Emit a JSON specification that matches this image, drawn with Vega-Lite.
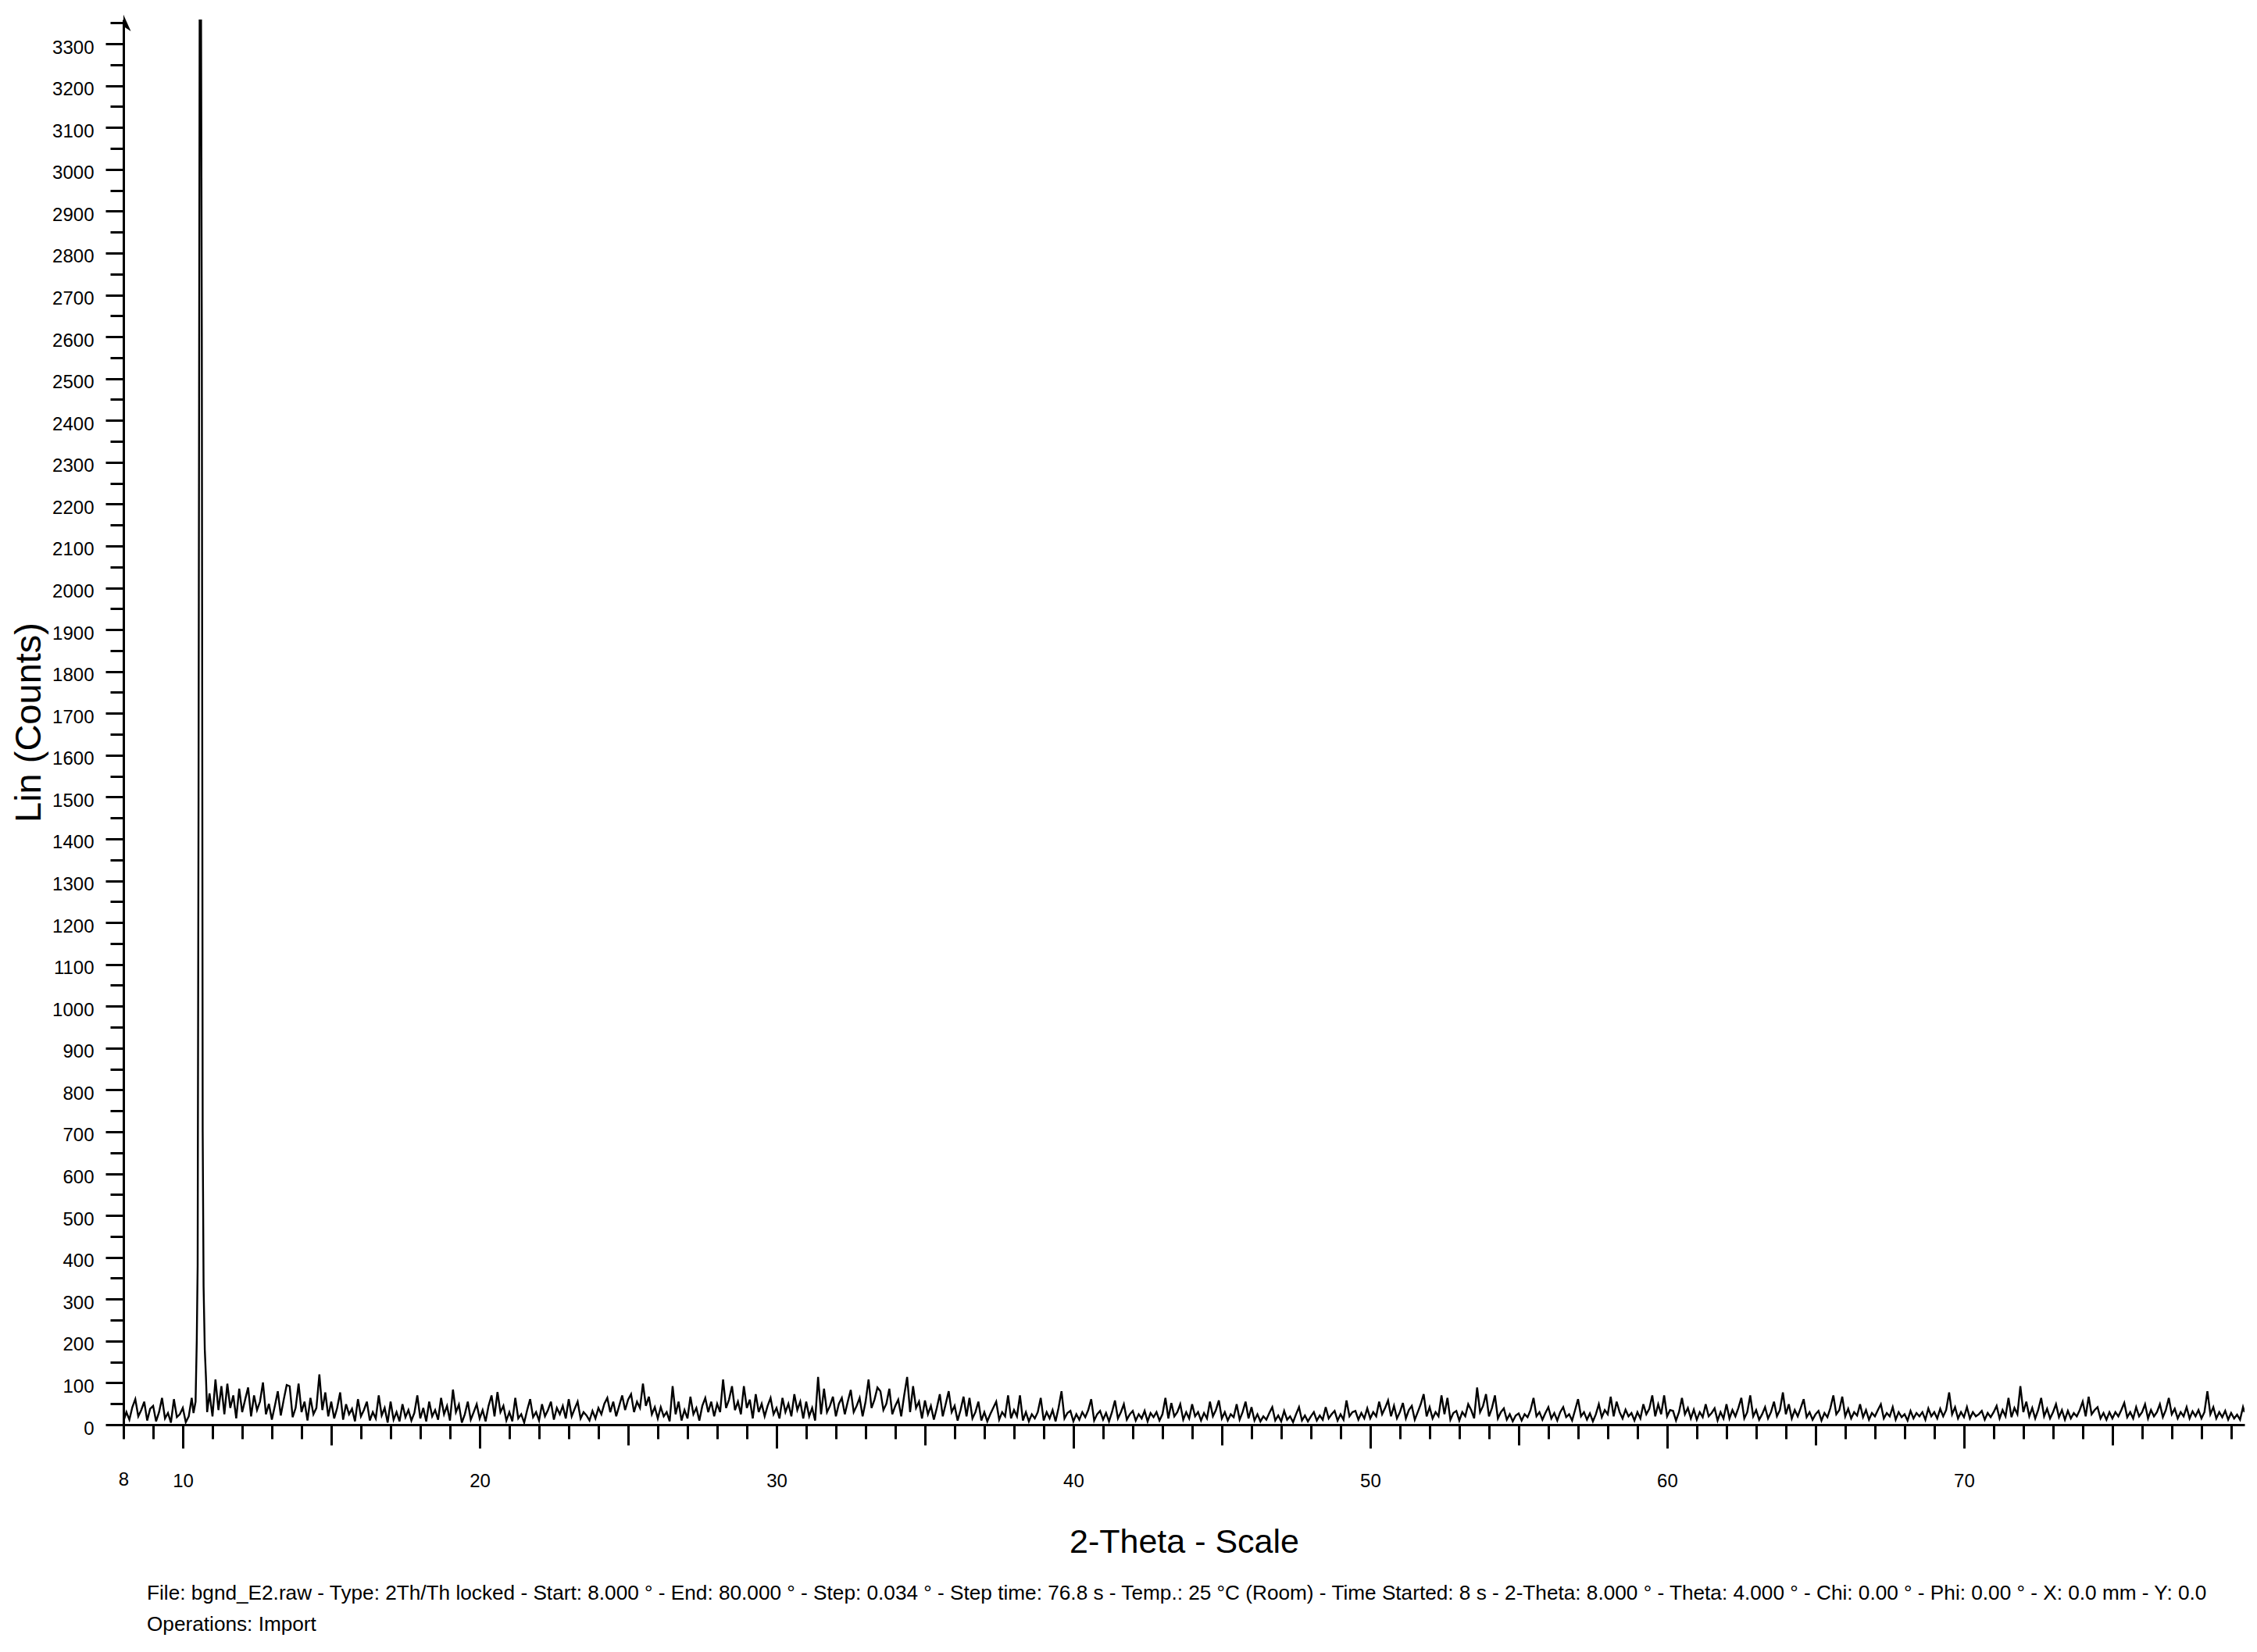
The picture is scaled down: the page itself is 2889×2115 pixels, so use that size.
{
  "$schema": "https://vega.github.io/schema/vega-lite/v6.json",
  "width": 2715,
  "height": 1799,
  "autosize": {"type": "none"},
  "padding": {"left": 158, "top": 25, "right": 16, "bottom": 291},
  "background": "white",
  "config": {"view": {"stroke": null}},
  "title": {
    "text": ["File: bgnd_E2.raw - Type: 2Th/Th locked - Start: 8.000 ° - End: 80.000 ° - Step: 0.034 ° - Step time: 76.8 s - Temp.: 25 °C (Room) - Time Started: 8 s - 2-Theta: 8.000 ° - Theta: 4.000 ° - Chi: 0.00 ° - Phi: 0.00 ° - X: 0.0 mm - Y: 0.0", "Operations: Import"],
    "orient": "bottom",
    "anchor": "start",
    "frame": "group",
    "dx": 30,
    "offset": 31,
    "font": "Liberation Sans, Arial, sans-serif",
    "fontSize": 26.2,
    "fontWeight": "normal",
    "color": "black",
    "lineHeight": 40
  },
  "layer": [
    {
  "data": {"values": [
{"t":8.0,"c":8},{"t":8.1,"c":30},{"t":8.2,"c":12},{"t":8.3,"c":42},{"t":8.4,"c":61},{"t":8.5,"c":20},{"t":8.6,"c":35},{"t":8.7,"c":55},{"t":8.8,"c":10},{"t":8.9,"c":38},
{"t":9.0,"c":45},{"t":9.1,"c":8},{"t":9.2,"c":30},{"t":9.3,"c":64},{"t":9.4,"c":15},{"t":9.5,"c":28},{"t":9.6,"c":5},{"t":9.7,"c":61},{"t":9.8,"c":18},{"t":9.9,"c":25},
{"t":10.0,"c":40},{"t":10.1,"c":6},{"t":10.2,"c":20},{"t":10.3,"c":64},{"t":10.36,"c":28},{"t":10.43,"c":55},{"t":10.47,"c":200},{"t":10.5,"c":380},{"t":10.53,"c":1500},{"t":10.57,"c":3500},{"t":10.6,"c":3800},{"t":10.64,"c":2600},{"t":10.67,"c":700},{"t":10.7,"c":330},{"t":10.74,"c":180},{"t":10.78,"c":113},{"t":10.82,"c":30},{"t":10.9,"c":75},
{"t":11.0,"c":20},{"t":11.1,"c":108},{"t":11.2,"c":35},{"t":11.3,"c":92},{"t":11.4,"c":25},{"t":11.5,"c":98},{"t":11.6,"c":40},{"t":11.7,"c":70},{"t":11.8,"c":15},{"t":11.9,"c":86},
{"t":12.0,"c":30},{"t":12.1,"c":60},{"t":12.2,"c":89},{"t":12.3,"c":20},{"t":12.4,"c":70},{"t":12.5,"c":35},{"t":12.6,"c":55},{"t":12.7,"c":101},{"t":12.8,"c":25},{"t":12.9,"c":50},
{"t":13.0,"c":12},{"t":13.1,"c":45},{"t":13.2,"c":80},{"t":13.3,"c":22},{"t":13.4,"c":60},{"t":13.5,"c":95},{"t":13.6,"c":92},{"t":13.7,"c":18},{"t":13.8,"c":40},{"t":13.9,"c":98},
{"t":14.0,"c":30},{"t":14.1,"c":55},{"t":14.2,"c":10},{"t":14.3,"c":64},{"t":14.4,"c":25},{"t":14.5,"c":40},{"t":14.6,"c":120},{"t":14.7,"c":35},{"t":14.8,"c":77},{"t":14.9,"c":20},
{"t":15.0,"c":55},{"t":15.1,"c":15},{"t":15.2,"c":40},{"t":15.3,"c":77},{"t":15.4,"c":12},{"t":15.5,"c":49},{"t":15.6,"c":25},{"t":15.7,"c":38},{"t":15.8,"c":8},{"t":15.9,"c":61},
{"t":16.0,"c":20},{"t":16.1,"c":35},{"t":16.2,"c":55},{"t":16.3,"c":10},{"t":16.4,"c":30},{"t":16.5,"c":15},{"t":16.6,"c":70},{"t":16.7,"c":22},{"t":16.8,"c":40},{"t":16.9,"c":5},
{"t":17.0,"c":55},{"t":17.1,"c":12},{"t":17.2,"c":30},{"t":17.3,"c":8},{"t":17.4,"c":49},{"t":17.5,"c":18},{"t":17.6,"c":35},{"t":17.7,"c":10},{"t":17.8,"c":28},{"t":17.9,"c":70},
{"t":18.0,"c":15},{"t":18.1,"c":40},{"t":18.2,"c":8},{"t":18.3,"c":55},{"t":18.4,"c":20},{"t":18.5,"c":35},{"t":18.6,"c":12},{"t":18.7,"c":64},{"t":18.8,"c":25},{"t":18.9,"c":45},
{"t":19.0,"c":10},{"t":19.1,"c":84},{"t":19.2,"c":30},{"t":19.3,"c":48},{"t":19.4,"c":5},{"t":19.5,"c":25},{"t":19.6,"c":55},{"t":19.7,"c":12},{"t":19.8,"c":30},{"t":19.9,"c":49},
{"t":20.0,"c":15},{"t":20.1,"c":35},{"t":20.2,"c":8},{"t":20.3,"c":45},{"t":20.4,"c":70},{"t":20.5,"c":20},{"t":20.6,"c":78},{"t":20.7,"c":30},{"t":20.8,"c":45},{"t":20.9,"c":10},
{"t":21.0,"c":30},{"t":21.1,"c":8},{"t":21.2,"c":64},{"t":21.3,"c":15},{"t":21.4,"c":25},{"t":21.5,"c":5},{"t":21.6,"c":35},{"t":21.7,"c":61},{"t":21.8,"c":18},{"t":21.9,"c":30},
{"t":22.0,"c":10},{"t":22.1,"c":49},{"t":22.2,"c":20},{"t":22.3,"c":35},{"t":22.4,"c":55},{"t":22.5,"c":12},{"t":22.6,"c":40},{"t":22.7,"c":25},{"t":22.8,"c":45},{"t":22.9,"c":15},
{"t":23.0,"c":61},{"t":23.1,"c":20},{"t":23.2,"c":38},{"t":23.3,"c":55},{"t":23.4,"c":15},{"t":23.5,"c":30},{"t":23.6,"c":22},{"t":23.7,"c":10},{"t":23.8,"c":33},{"t":23.9,"c":15},
{"t":24.0,"c":40},{"t":24.1,"c":25},{"t":24.2,"c":50},{"t":24.3,"c":64},{"t":24.4,"c":30},{"t":24.5,"c":55},{"t":24.6,"c":20},{"t":24.7,"c":45},{"t":24.8,"c":70},{"t":24.9,"c":35},
{"t":25.0,"c":60},{"t":25.1,"c":73},{"t":25.2,"c":30},{"t":25.3,"c":55},{"t":25.4,"c":40},{"t":25.5,"c":98},{"t":25.6,"c":45},{"t":25.7,"c":67},{"t":25.8,"c":25},{"t":25.9,"c":42},
{"t":26.0,"c":15},{"t":26.1,"c":42},{"t":26.2,"c":20},{"t":26.3,"c":30},{"t":26.4,"c":8},{"t":26.5,"c":92},{"t":26.6,"c":25},{"t":26.7,"c":55},{"t":26.8,"c":10},{"t":26.9,"c":35},
{"t":27.0,"c":15},{"t":27.1,"c":67},{"t":27.2,"c":25},{"t":27.3,"c":40},{"t":27.4,"c":10},{"t":27.5,"c":45},{"t":27.6,"c":64},{"t":27.7,"c":30},{"t":27.8,"c":55},{"t":27.9,"c":20},
{"t":28.0,"c":50},{"t":28.1,"c":30},{"t":28.2,"c":108},{"t":28.3,"c":40},{"t":28.4,"c":60},{"t":28.5,"c":92},{"t":28.6,"c":35},{"t":28.7,"c":55},{"t":28.8,"c":25},{"t":28.9,"c":92},
{"t":29.0,"c":40},{"t":29.1,"c":60},{"t":29.2,"c":15},{"t":29.3,"c":73},{"t":29.4,"c":30},{"t":29.5,"c":50},{"t":29.6,"c":20},{"t":29.7,"c":45},{"t":29.8,"c":64},{"t":29.9,"c":25},
{"t":30.0,"c":40},{"t":30.1,"c":15},{"t":30.2,"c":64},{"t":30.3,"c":30},{"t":30.4,"c":50},{"t":30.5,"c":20},{"t":30.6,"c":73},{"t":30.7,"c":35},{"t":30.8,"c":55},{"t":30.9,"c":15},
{"t":31.0,"c":55},{"t":31.1,"c":20},{"t":31.2,"c":40},{"t":31.3,"c":10},{"t":31.4,"c":114},{"t":31.5,"c":25},{"t":31.6,"c":86},{"t":31.7,"c":30},{"t":31.8,"c":45},{"t":31.9,"c":67},
{"t":32.0,"c":20},{"t":32.1,"c":50},{"t":32.2,"c":64},{"t":32.3,"c":25},{"t":32.4,"c":55},{"t":32.5,"c":83},{"t":32.6,"c":30},{"t":32.7,"c":45},{"t":32.8,"c":64},{"t":32.9,"c":20},
{"t":33.0,"c":55},{"t":33.1,"c":108},{"t":33.2,"c":40},{"t":33.3,"c":60},{"t":33.4,"c":89},{"t":33.5,"c":80},{"t":33.6,"c":35},{"t":33.7,"c":50},{"t":33.8,"c":86},{"t":33.9,"c":25},
{"t":34.0,"c":45},{"t":34.1,"c":60},{"t":34.2,"c":20},{"t":34.3,"c":70},{"t":34.4,"c":114},{"t":34.5,"c":30},{"t":34.6,"c":92},{"t":34.7,"c":40},{"t":34.8,"c":55},{"t":34.9,"c":15},
{"t":35.0,"c":58},{"t":35.1,"c":25},{"t":35.2,"c":45},{"t":35.3,"c":12},{"t":35.4,"c":40},{"t":35.5,"c":73},{"t":35.6,"c":20},{"t":35.7,"c":50},{"t":35.8,"c":80},{"t":35.9,"c":30},
{"t":36.0,"c":45},{"t":36.1,"c":10},{"t":36.2,"c":35},{"t":36.3,"c":67},{"t":36.4,"c":20},{"t":36.5,"c":64},{"t":36.6,"c":15},{"t":36.7,"c":30},{"t":36.8,"c":55},{"t":36.9,"c":10},
{"t":37.0,"c":30},{"t":37.1,"c":8},{"t":37.2,"c":25},{"t":37.3,"c":40},{"t":37.4,"c":55},{"t":37.5,"c":12},{"t":37.6,"c":30},{"t":37.7,"c":20},{"t":37.8,"c":70},{"t":37.9,"c":15},
{"t":38.0,"c":35},{"t":38.1,"c":20},{"t":38.2,"c":70},{"t":38.3,"c":10},{"t":38.4,"c":30},{"t":38.5,"c":8},{"t":38.6,"c":25},{"t":38.7,"c":15},{"t":38.8,"c":30},{"t":38.9,"c":64},
{"t":39.0,"c":10},{"t":39.1,"c":30},{"t":39.2,"c":15},{"t":39.3,"c":35},{"t":39.4,"c":8},{"t":39.5,"c":40},{"t":39.6,"c":80},{"t":39.7,"c":15},{"t":39.8,"c":28},{"t":39.9,"c":33},
{"t":40.0,"c":8},{"t":40.1,"c":25},{"t":40.2,"c":12},{"t":40.3,"c":30},{"t":40.4,"c":18},{"t":40.5,"c":35},{"t":40.6,"c":61},{"t":40.7,"c":10},{"t":40.8,"c":25},{"t":40.9,"c":33},
{"t":41.0,"c":12},{"t":41.1,"c":28},{"t":41.2,"c":8},{"t":41.3,"c":30},{"t":41.4,"c":58},{"t":41.5,"c":15},{"t":41.6,"c":30},{"t":41.7,"c":49},{"t":41.8,"c":12},{"t":41.9,"c":25},
{"t":42.0,"c":33},{"t":42.1,"c":10},{"t":42.2,"c":25},{"t":42.3,"c":15},{"t":42.4,"c":33},{"t":42.5,"c":8},{"t":42.6,"c":28},{"t":42.7,"c":18},{"t":42.8,"c":30},{"t":42.9,"c":10},
{"t":43.0,"c":25},{"t":43.1,"c":64},{"t":43.2,"c":15},{"t":43.3,"c":52},{"t":43.4,"c":20},{"t":43.5,"c":30},{"t":43.6,"c":49},{"t":43.7,"c":12},{"t":43.8,"c":30},{"t":43.9,"c":15},
{"t":44.0,"c":49},{"t":44.1,"c":20},{"t":44.2,"c":30},{"t":44.3,"c":10},{"t":44.4,"c":28},{"t":44.5,"c":15},{"t":44.6,"c":55},{"t":44.7,"c":20},{"t":44.8,"c":35},{"t":44.9,"c":58},
{"t":45.0,"c":15},{"t":45.1,"c":30},{"t":45.2,"c":10},{"t":45.3,"c":25},{"t":45.4,"c":18},{"t":45.5,"c":49},{"t":45.6,"c":12},{"t":45.7,"c":30},{"t":45.8,"c":55},{"t":45.9,"c":15},
{"t":46.0,"c":42},{"t":46.1,"c":10},{"t":46.2,"c":25},{"t":46.3,"c":8},{"t":46.4,"c":20},{"t":46.5,"c":12},{"t":46.6,"c":28},{"t":46.7,"c":42},{"t":46.8,"c":10},{"t":46.9,"c":22},
{"t":47.0,"c":8},{"t":47.1,"c":33},{"t":47.2,"c":12},{"t":47.3,"c":20},{"t":47.4,"c":6},{"t":47.5,"c":25},{"t":47.6,"c":42},{"t":47.7,"c":10},{"t":47.8,"c":22},{"t":47.9,"c":8},
{"t":48.0,"c":20},{"t":48.1,"c":30},{"t":48.2,"c":10},{"t":48.3,"c":22},{"t":48.4,"c":12},{"t":48.5,"c":42},{"t":48.6,"c":15},{"t":48.7,"c":25},{"t":48.8,"c":33},{"t":48.9,"c":10},
{"t":49.0,"c":25},{"t":49.1,"c":12},{"t":49.2,"c":58},{"t":49.3,"c":20},{"t":49.4,"c":30},{"t":49.5,"c":33},{"t":49.6,"c":12},{"t":49.7,"c":28},{"t":49.8,"c":15},{"t":49.9,"c":39},
{"t":50.0,"c":15},{"t":50.1,"c":30},{"t":50.2,"c":20},{"t":50.3,"c":55},{"t":50.4,"c":25},{"t":50.5,"c":40},{"t":50.6,"c":58},{"t":50.7,"c":20},{"t":50.8,"c":45},{"t":50.9,"c":15},
{"t":51.0,"c":30},{"t":51.1,"c":52},{"t":51.2,"c":15},{"t":51.3,"c":35},{"t":51.4,"c":45},{"t":51.5,"c":12},{"t":51.6,"c":30},{"t":51.7,"c":49},{"t":51.8,"c":73},{"t":51.9,"c":20},
{"t":52.0,"c":42},{"t":52.1,"c":15},{"t":52.2,"c":30},{"t":52.3,"c":20},{"t":52.4,"c":70},{"t":52.5,"c":25},{"t":52.6,"c":64},{"t":52.7,"c":12},{"t":52.8,"c":28},{"t":52.9,"c":33},
{"t":53.0,"c":10},{"t":53.1,"c":30},{"t":53.2,"c":20},{"t":53.3,"c":49},{"t":53.4,"c":35},{"t":53.5,"c":15},{"t":53.6,"c":89},{"t":53.7,"c":30},{"t":53.8,"c":45},{"t":53.9,"c":73},
{"t":54.0,"c":20},{"t":54.1,"c":40},{"t":54.2,"c":70},{"t":54.3,"c":15},{"t":54.4,"c":30},{"t":54.5,"c":39},{"t":54.6,"c":12},{"t":54.7,"c":25},{"t":54.8,"c":8},{"t":54.9,"c":22},
{"t":55.0,"c":27},{"t":55.1,"c":10},{"t":55.2,"c":25},{"t":55.3,"c":18},{"t":55.4,"c":35},{"t":55.5,"c":64},{"t":55.6,"c":20},{"t":55.7,"c":30},{"t":55.8,"c":12},{"t":55.9,"c":28},
{"t":56.0,"c":42},{"t":56.1,"c":15},{"t":56.2,"c":28},{"t":56.3,"c":10},{"t":56.4,"c":30},{"t":56.5,"c":42},{"t":56.6,"c":18},{"t":56.7,"c":25},{"t":56.8,"c":10},{"t":56.9,"c":35},
{"t":57.0,"c":61},{"t":57.1,"c":20},{"t":57.2,"c":30},{"t":57.3,"c":12},{"t":57.4,"c":27},{"t":57.5,"c":8},{"t":57.6,"c":25},{"t":57.7,"c":49},{"t":57.8,"c":18},{"t":57.9,"c":35},
{"t":58.0,"c":25},{"t":58.1,"c":67},{"t":58.2,"c":20},{"t":58.3,"c":55},{"t":58.4,"c":30},{"t":58.5,"c":15},{"t":58.6,"c":36},{"t":58.7,"c":20},{"t":58.8,"c":28},{"t":58.9,"c":10},
{"t":59.0,"c":30},{"t":59.1,"c":15},{"t":59.2,"c":49},{"t":59.3,"c":25},{"t":59.4,"c":38},{"t":59.5,"c":70},{"t":59.6,"c":20},{"t":59.7,"c":49},{"t":59.8,"c":25},{"t":59.9,"c":70},
{"t":60.0,"c":20},{"t":60.1,"c":35},{"t":60.2,"c":33},{"t":60.3,"c":10},{"t":60.4,"c":30},{"t":60.5,"c":64},{"t":60.6,"c":25},{"t":60.7,"c":40},{"t":60.8,"c":15},{"t":60.9,"c":36},
{"t":61.0,"c":12},{"t":61.1,"c":30},{"t":61.2,"c":18},{"t":61.3,"c":49},{"t":61.4,"c":20},{"t":61.5,"c":28},{"t":61.6,"c":39},{"t":61.7,"c":10},{"t":61.8,"c":30},{"t":61.9,"c":15},
{"t":62.0,"c":49},{"t":62.1,"c":15},{"t":62.2,"c":35},{"t":62.3,"c":20},{"t":62.4,"c":40},{"t":62.5,"c":64},{"t":62.6,"c":15},{"t":62.7,"c":30},{"t":62.8,"c":70},{"t":62.9,"c":20},
{"t":63.0,"c":35},{"t":63.1,"c":12},{"t":63.2,"c":25},{"t":63.3,"c":42},{"t":63.4,"c":15},{"t":63.5,"c":30},{"t":63.6,"c":55},{"t":63.7,"c":20},{"t":63.8,"c":35},{"t":63.9,"c":77},
{"t":64.0,"c":25},{"t":64.1,"c":49},{"t":64.2,"c":15},{"t":64.3,"c":35},{"t":64.4,"c":20},{"t":64.5,"c":40},{"t":64.6,"c":61},{"t":64.7,"c":18},{"t":64.8,"c":30},{"t":64.9,"c":12},
{"t":65.0,"c":25},{"t":65.1,"c":33},{"t":65.2,"c":10},{"t":65.3,"c":28},{"t":65.4,"c":18},{"t":65.5,"c":40},{"t":65.6,"c":70},{"t":65.7,"c":25},{"t":65.8,"c":35},{"t":65.9,"c":67},
{"t":66.0,"c":20},{"t":66.1,"c":38},{"t":66.2,"c":15},{"t":66.3,"c":30},{"t":66.4,"c":22},{"t":66.5,"c":49},{"t":66.6,"c":18},{"t":66.7,"c":35},{"t":66.8,"c":12},{"t":66.9,"c":28},
{"t":67.0,"c":20},{"t":67.1,"c":35},{"t":67.2,"c":49},{"t":67.3,"c":15},{"t":67.4,"c":28},{"t":67.5,"c":20},{"t":67.6,"c":42},{"t":67.7,"c":12},{"t":67.8,"c":30},{"t":67.9,"c":18},
{"t":68.0,"c":25},{"t":68.1,"c":10},{"t":68.2,"c":33},{"t":68.3,"c":15},{"t":68.4,"c":28},{"t":68.5,"c":20},{"t":68.6,"c":30},{"t":68.7,"c":12},{"t":68.8,"c":39},{"t":68.9,"c":20},
{"t":69.0,"c":30},{"t":69.1,"c":15},{"t":69.2,"c":38},{"t":69.3,"c":20},{"t":69.4,"c":35},{"t":69.5,"c":77},{"t":69.6,"c":25},{"t":69.7,"c":42},{"t":69.8,"c":15},{"t":69.9,"c":30},
{"t":70.0,"c":18},{"t":70.1,"c":42},{"t":70.2,"c":15},{"t":70.3,"c":30},{"t":70.4,"c":20},{"t":70.5,"c":25},{"t":70.6,"c":33},{"t":70.7,"c":12},{"t":70.8,"c":28},{"t":70.9,"c":18},
{"t":71.0,"c":30},{"t":71.1,"c":45},{"t":71.2,"c":15},{"t":71.3,"c":35},{"t":71.4,"c":20},{"t":71.5,"c":64},{"t":71.6,"c":18},{"t":71.7,"c":40},{"t":71.8,"c":25},{"t":71.9,"c":92},
{"t":72.0,"c":30},{"t":72.1,"c":55},{"t":72.2,"c":20},{"t":72.3,"c":40},{"t":72.4,"c":15},{"t":72.5,"c":35},{"t":72.6,"c":64},{"t":72.7,"c":20},{"t":72.8,"c":38},{"t":72.9,"c":15},
{"t":73.0,"c":30},{"t":73.1,"c":49},{"t":73.2,"c":18},{"t":73.3,"c":35},{"t":73.4,"c":12},{"t":73.5,"c":33},{"t":73.6,"c":15},{"t":73.7,"c":28},{"t":73.8,"c":20},{"t":73.9,"c":35},
{"t":74.0,"c":55},{"t":74.1,"c":20},{"t":74.2,"c":67},{"t":74.3,"c":25},{"t":74.4,"c":35},{"t":74.5,"c":42},{"t":74.6,"c":15},{"t":74.7,"c":28},{"t":74.8,"c":12},{"t":74.9,"c":30},
{"t":75.0,"c":15},{"t":75.1,"c":30},{"t":75.2,"c":20},{"t":75.3,"c":35},{"t":75.4,"c":52},{"t":75.5,"c":18},{"t":75.6,"c":30},{"t":75.7,"c":15},{"t":75.8,"c":42},{"t":75.9,"c":20},
{"t":76.0,"c":30},{"t":76.1,"c":49},{"t":76.2,"c":15},{"t":76.3,"c":35},{"t":76.4,"c":20},{"t":76.5,"c":30},{"t":76.6,"c":49},{"t":76.7,"c":18},{"t":76.8,"c":35},{"t":76.9,"c":64},
{"t":77.0,"c":25},{"t":77.1,"c":38},{"t":77.2,"c":15},{"t":77.3,"c":30},{"t":77.4,"c":20},{"t":77.5,"c":42},{"t":77.6,"c":15},{"t":77.7,"c":32},{"t":77.8,"c":20},{"t":77.9,"c":35},
{"t":78.0,"c":15},{"t":78.1,"c":30},{"t":78.2,"c":80},{"t":78.3,"c":25},{"t":78.4,"c":42},{"t":78.5,"c":15},{"t":78.6,"c":30},{"t":78.7,"c":18},{"t":78.8,"c":33},{"t":78.9,"c":12},
{"t":79.0,"c":28},{"t":79.1,"c":15},{"t":79.2,"c":24},{"t":79.3,"c":12},{"t":79.4,"c":42},{"t":79.45,"c":30}
  ]},
  "mark": {"type": "line", "color": "black", "strokeWidth": 2.4, "clip": true},
  "encoding": {
    "x": {
      "field": "t", "type": "quantitative",
      "scale": {"domain": [8, 79.45], "nice": false, "zero": false},
      "axis": {
        "title": "2-Theta - Scale",
        "titleFont": "Liberation Sans, Arial, sans-serif",
        "titleFontSize": 43, "titleFontWeight": "normal", "titleColor": "black", "titlePadding": 45,
        "values": [8,9,10,11,12,13,14,15,16,17,18,19,20,21,22,23,24,25,26,27,28,29,30,31,32,33,34,35,36,37,38,39,40,41,42,43,44,45,46,47,48,49,50,51,52,53,54,55,56,57,58,59,60,61,62,63,64,65,66,67,68,69,70,71,72,73,74,75,76,77,78,79],
        "labelExpr": "datum.value == 8 || datum.value % 10 == 0 ? datum.label : ''",
        "labelFont": "Liberation Sans, Arial, sans-serif", "labelFontSize": 24, "labelColor": "black",
        "labelPadding": {"condition": {"test": "datum.value == 8", "value": 40}, "value": 30},
        "labelFlush": false, "labelOverlap": false,
        "tickSize": {"condition": [{"test": "datum.value % 10 == 0", "value": 30}, {"test": "datum.value % 5 == 0", "value": 26}], "value": 18},
        "tickColor": "black", "tickWidth": 3, "domainColor": "black", "domainWidth": 3, "grid": false
      }
    },
    "y": {
      "field": "c", "type": "quantitative",
      "scale": {"domain": [0, 3358], "nice": false},
      "axis": {
        "title": "Lin (Counts)",
        "titleFont": "Liberation Sans, Arial, sans-serif",
        "titleFontSize": 47, "titleFontWeight": "normal", "titleColor": "black", "titlePadding": 5,
        "values": [0,50,100,150,200,250,300,350,400,450,500,550,600,650,700,750,800,850,900,950,1000,1050,1100,1150,1200,1250,1300,1350,1400,1450,1500,1550,1600,1650,1700,1750,1800,1850,1900,1950,2000,2050,2100,2150,2200,2250,2300,2350,2400,2450,2500,2550,2600,2650,2700,2750,2800,2850,2900,2950,3000,3050,3100,3150,3200,3250,3300,3350],
        "format": "d",
        "labelExpr": "datum.value % 100 == 0 ? datum.label : ''",
        "labelFont": "Liberation Sans, Arial, sans-serif", "labelFontSize": 24, "labelColor": "black",
        "labelPadding": 15, "labelOffset": 5, "labelOverlap": false, "labelFlush": false,
        "tickSize": {"condition": {"test": "datum.value % 100 == 0", "value": 23}, "value": 17},
        "tickColor": "black", "tickWidth": 3, "domainColor": "black", "domainWidth": 3, "grid": false
      }
    }
  }
    },
    {
      "data": {"values": [{}]},
      "mark": {"type": "point", "shape": "M0,-1L0.45,0L0,-0.3Z", "filled": true, "color": "black", "opacity": 1, "size": 1800, "strokeWidth": 0, "clip": false},
      "encoding": {
        "x": {"datum": 8, "type": "quantitative",
          "axis": {
            "title": "2-Theta - Scale",
            "titleFont": "Liberation Sans, Arial, sans-serif",
            "titleFontSize": 43, "titleFontWeight": "normal", "titleColor": "black", "titlePadding": 45,
            "values": [8,9,10,11,12,13,14,15,16,17,18,19,20,21,22,23,24,25,26,27,28,29,30,31,32,33,34,35,36,37,38,39,40,41,42,43,44,45,46,47,48,49,50,51,52,53,54,55,56,57,58,59,60,61,62,63,64,65,66,67,68,69,70,71,72,73,74,75,76,77,78,79],
            "labelExpr": "datum.value == 8 || datum.value % 10 == 0 ? datum.label : ''",
            "labelFont": "Liberation Sans, Arial, sans-serif", "labelFontSize": 24, "labelColor": "black",
            "labelPadding": {"condition": {"test": "datum.value == 8", "value": 40}, "value": 30},
            "labelFlush": false, "labelOverlap": false,
            "tickSize": {"condition": [{"test": "datum.value % 10 == 0", "value": 30}, {"test": "datum.value % 5 == 0", "value": 26}], "value": 18},
            "tickColor": "black", "tickWidth": 3, "domainColor": "black", "domainWidth": 3, "grid": false
          }
        },
        "y": {"datum": 3330, "type": "quantitative",
          "axis": {
            "title": "Lin (Counts)",
            "titleFont": "Liberation Sans, Arial, sans-serif",
            "titleFontSize": 47, "titleFontWeight": "normal", "titleColor": "black", "titlePadding": 5,
            "values": [0,50,100,150,200,250,300,350,400,450,500,550,600,650,700,750,800,850,900,950,1000,1050,1100,1150,1200,1250,1300,1350,1400,1450,1500,1550,1600,1650,1700,1750,1800,1850,1900,1950,2000,2050,2100,2150,2200,2250,2300,2350,2400,2450,2500,2550,2600,2650,2700,2750,2800,2850,2900,2950,3000,3050,3100,3150,3200,3250,3300,3350],
            "format": "d",
            "labelExpr": "datum.value % 100 == 0 ? datum.label : ''",
            "labelFont": "Liberation Sans, Arial, sans-serif", "labelFontSize": 24, "labelColor": "black",
            "labelPadding": 15, "labelOffset": 5, "labelOverlap": false, "labelFlush": false,
            "tickSize": {"condition": {"test": "datum.value % 100 == 0", "value": 23}, "value": 17},
            "tickColor": "black", "tickWidth": 3, "domainColor": "black", "domainWidth": 3, "grid": false
          }
        }
      }
    }
  ]
}
